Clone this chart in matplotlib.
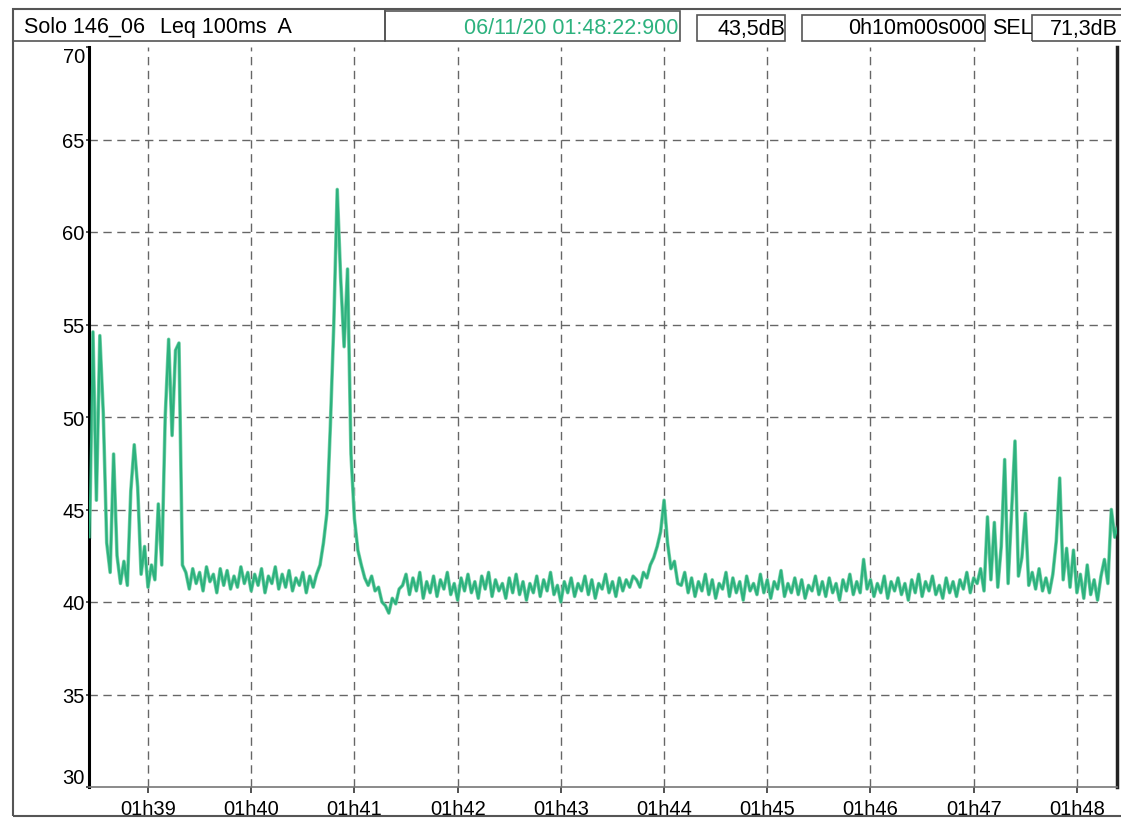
import numpy as np
import matplotlib
matplotlib.use("Agg")
import matplotlib.pyplot as plt
from matplotlib.patches import Rectangle

plt.rcParams['font.family'] = ['Liberation Sans', 'DejaVu Sans']

# Leq 100ms A, one value every 2 s from 01:38:26
t0 = 26.0      # seconds after 01:38:00
step = 2.0

lvl_start_burst = [43.5, 54.6, 45.5, 54.4, 50.2, 43.2, 41.6, 48.0, 42.5, 41.0,
                   42.2, 40.9, 46.0, 48.5, 46.2, 41.5, 43.0, 40.8, 42.0, 41.2,
                   45.3, 42.0, 50.0, 54.2, 49.0, 53.6, 54.0, 42.0]
lvl_quiet_1 = [41.6, 40.7, 41.8, 41.0, 41.6, 40.6, 41.9, 41.1, 41.5, 40.5,
               41.8, 40.9, 41.7, 40.7, 41.4, 40.8, 41.9, 41.0, 41.6, 40.6,
               41.5, 40.9, 41.8, 40.5, 41.4, 41.0, 41.9, 40.7, 41.5, 40.8,
               41.7, 40.6, 41.3, 40.9, 41.6, 40.5, 41.4, 40.8, 41.5]
lvl_peak_1 = [42.0, 43.2, 44.8, 49.5, 55.0, 62.3, 57.5, 53.8, 58.0, 48.0,
              44.5, 42.8, 42.0, 41.3]
lvl_dip = [40.9, 41.4, 40.6, 40.8, 40.0, 39.8, 39.4, 40.2, 39.9, 40.7]
lvl_quiet_2 = [40.9, 41.5, 40.4, 41.3, 40.6, 41.6, 40.2, 41.1, 40.5, 41.4,
               40.3, 41.2, 40.7, 41.6, 40.4, 41.0, 40.1, 41.3, 40.6, 41.5,
               40.5, 41.1, 40.2, 41.4, 40.7, 41.6, 40.3, 41.2, 40.6, 41.0,
               40.2, 41.3, 40.5, 41.5, 40.4, 41.1, 40.1, 41.0, 40.5, 41.4,
               40.3, 41.2, 40.6, 41.6, 40.4, 40.9, 40.0, 41.1, 40.5, 41.3,
               40.3, 41.0, 40.6, 41.4, 40.4, 41.2, 40.2, 41.0, 40.7, 41.5,
               40.5, 41.1, 40.3, 41.3, 40.6, 41.2, 40.8, 41.4]
lvl_peak_2 = [41.2, 40.8, 41.6, 41.3, 42.0, 42.4, 43.0, 43.8, 45.5, 43.2,
              41.8, 42.2, 41.0]
lvl_quiet_3 = [40.9, 41.6, 40.5, 41.3, 40.3, 41.1, 40.6, 41.5, 40.4, 41.2,
               40.2, 41.0, 40.7, 41.6, 40.3, 41.3, 40.5, 41.1, 40.1, 41.4,
               40.6, 41.0, 40.4, 41.5, 40.5, 41.2, 40.2, 41.1, 40.7, 41.7,
               40.3, 41.0, 40.5, 41.3, 40.4, 41.2, 40.2, 40.9, 40.6, 41.4,
               40.4, 41.1, 40.3, 41.3, 40.5, 41.0, 40.1, 41.2, 40.6, 41.5,
               40.4, 41.1, 40.5, 42.3, 40.7, 41.2, 40.3, 41.0, 40.5, 41.4,
               40.2, 41.1, 40.6, 41.3, 40.4, 41.0, 40.1, 41.2, 40.5, 41.5,
               40.3, 41.1, 40.6, 41.4, 40.4, 40.9, 40.2, 41.3, 40.5, 41.1,
               40.3, 41.2, 40.7, 41.6, 40.5, 41.3]
lvl_end_burst = [41.0, 41.8, 40.6, 44.6, 41.2, 44.3, 40.8, 43.0, 47.7, 41.0,
                 44.8, 48.7, 41.4, 42.4, 44.8, 40.9, 41.6, 40.7, 41.8, 40.6,
                 41.3, 40.5, 41.5, 43.3, 46.7, 41.2, 42.9, 40.8, 42.8, 40.5,
                 41.5, 40.2, 42.0, 40.4, 41.2, 40.1, 41.4, 42.3, 41.0, 45.0,
                 43.5, 44.2]

level = np.array(lvl_start_burst + lvl_quiet_1 + lvl_peak_1 + lvl_dip + lvl_quiet_2
                 + lvl_peak_2 + lvl_quiet_3 + lvl_end_burst)
t = t0 + step * np.arange(len(level))

minute_ticks = [60, 120, 180, 240, 300, 360, 420, 480, 540, 600]
minute_labels = ['01h39', '01h40', '01h41', '01h42', '01h43',
                 '01h44', '01h45', '01h46', '01h47', '01h48']
db_ticks = [30, 35, 40, 45, 50, 55, 60, 65, 70]

W, H = 1121, 820
GREEN = '#2db27e'

fig = plt.figure(figsize=(W / 100, H / 100), dpi=100)
ax = fig.add_axes([89 / W, 1 - 788 / H, (1117 - 89) / W, (788 - 48) / H])

for v in db_ticks[1:-1]:
    ax.axhline(v, color='#666666', lw=1.0, dashes=(6, 4), zorder=1)
for m in minute_ticks:
    ax.axvline(m, color='#666666', lw=1.0, dashes=(6, 4), zorder=1)

ax.plot(t, level, color='#7fd3ad', lw=2.6, zorder=2)
ax.plot(t, level, color=GREEN, lw=1.6, zorder=3)

ax.set_xlim(25.7, 623.3)
ax.set_ylim(30, 70)
ax.set_xticks(minute_ticks)
ax.set_xticklabels(minute_labels, fontsize=14.5)
ax.set_yticks(db_ticks)
ax.set_yticklabels([str(v) for v in db_ticks], fontsize=14.5)
ax.tick_params(axis='x', direction='out', length=4.5, width=1.2, pad=4.5, color='#333333')
ax.tick_params(axis='y', direction='out', length=2.5, width=1.2, pad=0.5, color='#333333')
ylabs = ax.get_yticklabels()
ylabs[-1].set_va('top')
ylabs[0].set_va('bottom')

ax.spines['top'].set_visible(False)
ax.spines['left'].set_linewidth(2.2)
ax.spines['left'].set_color('black')
ax.spines['right'].set_linewidth(2.5)
ax.spines['right'].set_color('#222222')
ax.spines['bottom'].set_linewidth(1.2)
ax.spines['bottom'].set_color('#777777')


def box(x0, y0, x1, y1, lw=1.2, ec='#555555'):
    fig.add_artist(Rectangle((x0 / W, 1 - y1 / H), (x1 - x0) / W, (y1 - y0) / H,
                             transform=fig.transFigure, fill=False, ec=ec, lw=lw))


def label(x, y, s, ha='left', color='black', size=15.5):
    fig.text(x / W, 1 - y / H, s, ha=ha, va='center', color=color, fontsize=size)


# outer frame and header cells
box(13, 10, 1125, 817, lw=1.5)
box(13, 10, 385, 42)
box(385, 12, 680, 42)
box(697, 16, 785, 42)
box(802, 16, 985, 42)
box(1032, 16, 1125, 42)

label(24, 27, 'Solo 146_06')
label(160, 27, 'Leq 100ms  A')
label(678, 28, '06/11/20 01:48:22:900', ha='right', color=GREEN)
label(785, 29, '43,5dB', ha='right')
label(985, 29, '0h10m00s000', ha='right')
label(992, 29, 'SEL')
label(1118, 29, '71,3dB', ha='right')

fig.savefig('out.png', dpi=100)
